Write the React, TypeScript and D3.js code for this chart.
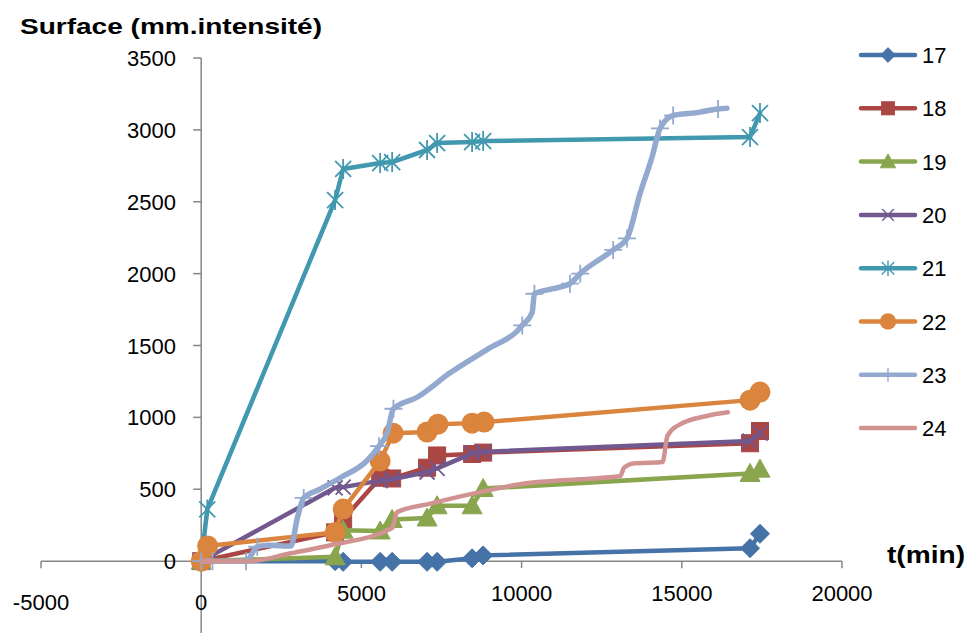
import React from 'react';
import * as d3 from 'd3';

const xTickValues = [-5000, 0, 5000, 10000, 15000, 20000];
const yTickValues = [0, 500, 1000, 1500, 2000, 2500, 3000, 3500];

const seriesNames = ['17', '18', '19', '20', '21', '22', '23', '24'];
const seriesColors = ['#4572A7', '#AA4643', '#89A54E', '#71588F', '#4198AF', '#DB843D', '#93A9CF', '#D19392'];
const seriesMarkers = ['diamond', 'square', 'triangle', 'x', 'asterisk', 'circle', 'plus', 'none'];

const tCommon = [0, 4180, 4430, 5585, 5960, 7050, 7363, 8455, 8800, 17130, 17440];
const v17 = [0, 0, -5, -5, -5, -5, -5, 20, 40, 90, 190];
const v18 = [0, 200, 290, 580, 575, 650, 735, 745, 755, 820, 905];
const v19 = [0, 30, 215, 210, 290, 300, 385, 385, 505, 610, 640];
const v20 = [0, 510, 515, 560, 570, 620, 645, 750, 760, 835, 890];

const t21 = [0, 190, 4180, 4430, 5585, 5960, 7050, 7363, 8455, 8800, 17130, 17440];
const v21 = [0, 360, 2512, 2728, 2769, 2776, 2860, 2908, 2915, 2922, 2950, 3117];

const t22 = [0, 200, 4180, 4430, 5585, 5990, 7050, 7390, 8455, 8830, 17130, 17440];
const v22 = [0, 105, 200, 362, 696, 890, 898, 953, 960, 967, 1120, 1176];

const t23 = [0, 350, 1400, 1750, 2100, 2800, 3000, 3200, 3700, 4340, 5180, 5550, 5800, 6000, 6740, 7770, 9020, 9860, 10020, 10330, 10400, 10980, 11510, 11830, 12860, 13290, 13700, 14070, 14320, 14730, 15470, 16130, 16410];
const v23 = [0, 0, 0, 100, 110, 105, 300, 440, 500, 580, 700, 800, 890, 1060, 1140, 1310, 1485, 1600, 1640, 1730, 1860, 1895, 1930, 2000, 2165, 2245, 2560, 2810, 3010, 3100, 3120, 3145, 3150];
const m23 = [1, 1, 1, 1, 0, 0, 0, 1, 0, 0, 0, 1, 0, 1, 0, 0, 0, 0, 1, 0, 1, 0, 1, 1, 1, 1, 0, 0, 1, 1, 0, 1, 0];

const t24 = [0, 1500, 2800, 4030, 5960, 6110, 7150, 8700, 9950, 11830, 13070, 13200, 13500, 14400, 14550, 14850, 15780, 16440];
const v24 = [0, 0, 55, 110, 230, 340, 400, 480, 535, 570, 590, 650, 680, 690, 870, 940, 1010, 1035];

const seriesTimes = [tCommon, tCommon, tCommon, tCommon, t21, t22, t23, t24];
const seriesValues = [v17, v18, v19, v20, v21, v22, v23, v24];

const FONT = 'Liberation Sans, Arial, sans-serif';
const AXIS = '#868686';

function Marker({ kind, color, x, y, s = 1 }: { kind: string; color: string; x: number; y: number; s?: number }) {
  const tr = `translate(${x},${y}) scale(${s})`;
  switch (kind) {
    case 'diamond':
      return <path transform={tr} d="M0,-9.5L9.5,0L0,9.5L-9.5,0Z" fill={color} stroke={color} strokeWidth={1} />;
    case 'square':
      return <rect transform={tr} x={-8.5} y={-8.5} width={17} height={17} fill={color} stroke={color} strokeWidth={1} />;
    case 'triangle':
      return <path transform={tr} d="M0,-10L10,8L-10,8Z" fill={color} stroke={color} strokeWidth={1} />;
    case 'circle':
      return <circle transform={tr} r={10.5} fill={color} />;
    case 'x':
      return <path transform={tr} d="M-7.5,-7.5L7.5,7.5M-7.5,7.5L7.5,-7.5" stroke={color} strokeWidth={1.8} fill="none" />;
    case 'asterisk':
      return <path transform={tr} d="M-8,-8L8,8M-8,8L8,-8M0,-10L0,10" stroke={color} strokeWidth={1.8} fill="none" />;
    case 'plus':
      return <path transform={tr} d="M-9,0L9,0M0,-9L0,9" stroke={color} strokeWidth={1.8} fill="none" />;
    default:
      return null;
  }
}

export default function App() {
  const W = 973, H = 635;
  const x = d3.scaleLinear().domain([-5000, 20000]).range([41, 842]);
  const y = d3.scaleLinear().domain([-500, 3500]).range([633, 58]);
  const lineStraight = d3.line<[number, number]>().x(d => x(d[0])).y(d => y(d[1])).curve(d3.curveLinear);
  const lineSmooth = d3.line<[number, number]>().x(d => x(d[0])).y(d => y(d[1])).curve(d3.curveMonotoneX);

  const legendY = (i: number) => 55 + i * 53.3;

  return (
    <svg width={W} height={H} style={{ position: 'absolute', left: 0, top: 0, background: '#fff' }} fontFamily={FONT}>
      <rect width={W} height={H} fill="#fff" />
      {/* axes */}
      <line x1={x(-5000)} x2={x(20000)} y1={y(0)} y2={y(0)} stroke={AXIS} strokeWidth={1.5} />
      <line x1={x(0)} x2={x(0)} y1={y(3500)} y2={y(-500)} stroke={AXIS} strokeWidth={1.5} />
      {xTickValues.map(v => (
        <g key={'xt' + v}>
          <line x1={x(v)} x2={x(v)} y1={y(0)} y2={y(0) + 7} stroke={AXIS} strokeWidth={1.5} />
          <text x={x(v)} y={v <= 0 ? 610 : 601} textAnchor="middle" fontSize={22} fill="#000">{v}</text>
        </g>
      ))}
      {yTickValues.map(v => (
        <g key={'yt' + v}>
          <line x1={x(0) - 8} x2={x(0)} y1={y(v)} y2={y(v)} stroke={AXIS} strokeWidth={1.5} />
          <text x={176} y={y(v) + 8} textAnchor="end" fontSize={22} fill="#000">{v}</text>
        </g>
      ))}
      {/* series */}
      {seriesNames.map((name, i) => {
        const pts: [number, number][] = seriesTimes[i].map((t, j) => [t, seriesValues[i][j]]);
        const gen = i >= 6 ? lineSmooth : lineStraight;
        return (
          <g key={'s' + name}>
            <path d={gen(pts) || ''} fill="none" stroke={seriesColors[i]} strokeWidth={i === 6 ? 5.5 : 4.5} strokeLinejoin="round" strokeLinecap="round" />
            {pts.map((p, j) => {
              if (i === 6 && !m23[j]) return null;
              return <Marker key={j} kind={seriesMarkers[i]} color={seriesColors[i]} x={x(p[0])} y={y(p[1])} />;
            })}
          </g>
        );
      })}
      {/* titles */}
      <text x={20} y={34} fontSize={22} fontWeight="bold" textLength={302} lengthAdjust="spacingAndGlyphs" fill="#000">Surface (mm.intensité)</text>
      <text x={887} y={563} fontSize={24} fontWeight="bold" textLength={78} lengthAdjust="spacingAndGlyphs" fill="#000">t(min)</text>
      {/* legend */}
      {seriesNames.map((name, i) => (
        <g key={'lg' + name}>
          <line x1={861} x2={915} y1={legendY(i)} y2={legendY(i)} stroke={seriesColors[i]} strokeWidth={4.5} strokeLinecap="round" />
          <Marker kind={seriesMarkers[i]} color={seriesColors[i]} x={888} y={legendY(i)} s={0.78} />
          <text x={922} y={legendY(i) + 8} fontSize={22} fill="#000">{name}</text>
        </g>
      ))}
    </svg>
  );
}
